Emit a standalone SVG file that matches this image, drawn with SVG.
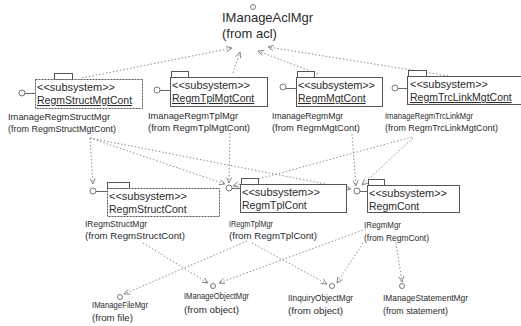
<svg xmlns="http://www.w3.org/2000/svg" width="521" height="326" viewBox="0 0 521 326">
<style>
  text { font-family: "Liberation Sans", Arial, sans-serif; fill: #2b2b2b; }
  .lbl { font-size: 9.5px; }
  .big { font-size: 13px; }
  .st { font-size: 11px; }
  .nm { font-size: 10.5px; text-decoration: underline; }
  .nm2 { font-size: 10.5px; }
  .box { fill: #fff; stroke: #555; stroke-width: 1; }
  .dot { stroke-dasharray: 2 1; }
  .tab { fill: #fff; stroke: #555; stroke-width: 1; }
  .ifc { fill: #fff; stroke: #777; stroke-width: 1; }
  .stick { stroke: #666; stroke-width: 1; }
  .dep { fill: none; stroke: #8f8f8f; stroke-width: 1; stroke-dasharray: 1.5 2; marker-end: url(#open); }
</style>
<defs>
  <marker id="open" viewBox="0 0 8 8" refX="7.5" refY="4" markerWidth="7" markerHeight="7" markerUnits="userSpaceOnUse" orient="auto">
    <path d="M1,1 L7.5,4 L1,7" fill="none" stroke="#808080" stroke-width="1"/>
  </marker>
</defs>
<rect width="521" height="326" fill="#fff"/>

<!-- dependency connectors -->
<g id="connectors">
  <!-- to IManageAclMgr -->
  <line class="dep" x1="82" y1="78" x2="232" y2="48"/>
  <line class="dep" x1="233" y1="73" x2="240" y2="52"/>
  <line class="dep" x1="318" y1="74" x2="258" y2="51"/>
  <line class="dep" x1="455" y1="77" x2="268" y2="47"/>
  <!-- management interfaces to core interfaces -->
  <line class="dep" x1="90" y1="138" x2="93" y2="184"/>
  <line class="dep" x1="90" y1="138" x2="225" y2="184"/>
  <line class="dep" x1="90" y1="138" x2="351" y2="189"/>
  <line class="dep" x1="230" y1="133" x2="229" y2="183"/>
  <line class="dep" x1="412" y1="137" x2="233" y2="186"/>
  <line class="dep" x1="352" y1="134" x2="356" y2="186"/>
  <line class="dep" x1="413" y1="138" x2="362" y2="185"/>
  <!-- core interfaces to service interfaces -->
  <line class="dep" x1="143" y1="243" x2="208" y2="283"/>
  <line class="dep" x1="247" y1="241" x2="124" y2="294"/>
  <line class="dep" x1="252" y1="243" x2="327" y2="284"/>
  <line class="dep" x1="366" y1="229" x2="219" y2="283"/>
  <line class="dep" x1="363" y1="243" x2="337" y2="283"/>
  <line class="dep" x1="396" y1="243" x2="402" y2="282"/>
</g>

<!-- interface IManageAclMgr -->
<g id="IManageAclMgr">
  <circle class="ifc" cx="253" cy="7" r="2.5"/>
  <text class="big" x="222" y="22">IManageAclMgr</text>
  <text class="big" x="222" y="38">(from acl)</text>
</g>

<!-- management subsystems -->
<g id="RegmStructMgtCont">
  <rect class="tab" x="54.5" y="73.5" width="18" height="6"/>
  <rect class="box dot" x="35.5" y="79.5" width="107" height="29"/>
  <text class="st" x="37" y="91" textLength="78">&lt;&lt;subsystem&gt;&gt;</text>
  <text class="nm" x="37" y="104">RegmStructMgtCont</text>
  <circle class="ifc" cx="22" cy="93" r="3"/>
  <line class="stick" x1="25" y1="93.5" x2="35" y2="93.5"/>
  <text class="lbl" x="8" y="120" textLength="102" lengthAdjust="spacingAndGlyphs">ImanageRegmStructMgr</text>
  <text class="lbl" x="8" y="132" textLength="108" lengthAdjust="spacingAndGlyphs">(from RegmStructMgtCont)</text>
</g>

<g id="RegmTplMgtCont">
  <rect class="tab" x="171.5" y="71.5" width="17" height="6"/>
  <rect class="box" x="170.5" y="77.5" width="97" height="29"/>
  <text class="st" x="172" y="89" textLength="78">&lt;&lt;subsystem&gt;&gt;</text>
  <text class="nm" x="172" y="102">RegmTplMgtCont</text>
  <circle class="ifc" cx="157" cy="90" r="3"/>
  <line class="stick" x1="160" y1="90.5" x2="170" y2="90.5"/>
  <text class="lbl" x="148" y="119" textLength="90" lengthAdjust="spacingAndGlyphs">ImanageRegmTplMgr</text>
  <text class="lbl" x="148" y="131" textLength="102" lengthAdjust="spacingAndGlyphs">(from RegmTplMgtCont)</text>
</g>

<g id="RegmMgtCont">
  <rect class="tab" x="297.5" y="71.5" width="17" height="6"/>
  <rect class="box" x="296.5" y="77.5" width="86" height="29"/>
  <text class="st" x="298" y="89" textLength="77">&lt;&lt;subsystem&gt;&gt;</text>
  <text class="nm" x="298" y="102">RegmMgtCont</text>
  <circle class="ifc" cx="283" cy="87" r="3"/>
  <line class="stick" x1="286" y1="88.5" x2="296" y2="88.5"/>
  <text class="lbl" x="272" y="119" textLength="71" lengthAdjust="spacingAndGlyphs">ImanageRegmMgr</text>
  <text class="lbl" x="272" y="131" textLength="88" lengthAdjust="spacingAndGlyphs">(from RegmMgtCont)</text>
</g>

<g id="RegmTrcLinkMgtCont">
  <rect class="tab" x="408.5" y="70.5" width="18" height="6"/>
  <rect class="box" x="407.5" y="76.5" width="120" height="28"/>
  <text class="st" x="410" y="88" textLength="78">&lt;&lt;subsystem&gt;&gt;</text>
  <text class="nm" x="410" y="101">RegmTrcLinkMgtCont</text>
  <circle class="ifc" cx="395" cy="88" r="3"/>
  <line class="stick" x1="398" y1="88.5" x2="407" y2="88.5"/>
  <text class="lbl" x="385" y="119" textLength="88" lengthAdjust="spacingAndGlyphs">ImanageRegmTrcLinkMgr</text>
  <text class="lbl" x="385" y="131" textLength="113" lengthAdjust="spacingAndGlyphs">(from RegmTrcLinkMgtCont)</text>
</g>

<!-- core subsystems -->
<g id="RegmStructCont">
  <rect class="tab" x="107.5" y="182.5" width="22" height="6"/>
  <rect class="box dot" x="107.5" y="188.5" width="112" height="28"/>
  <text class="st" x="109" y="200" textLength="78">&lt;&lt;subsystem&gt;&gt;</text>
  <text class="nm2" x="109" y="213">RegmStructCont</text>
  <circle class="ifc" cx="93" cy="191" r="3"/>
  <line class="stick" x1="96" y1="191.5" x2="107" y2="191.5"/>
  <text class="lbl" x="85" y="227" textLength="62" lengthAdjust="spacingAndGlyphs">IRegmStructMgr</text>
  <text class="lbl" x="85" y="239" textLength="100" lengthAdjust="spacingAndGlyphs">(from RegmStructCont)</text>
</g>

<g id="RegmTplCont">
  <rect class="tab" x="241.5" y="178.5" width="17" height="6"/>
  <rect class="box" x="240.5" y="184.5" width="106" height="28"/>
  <text class="st" x="242" y="196" textLength="78">&lt;&lt;subsystem&gt;&gt;</text>
  <text class="nm2" x="242" y="209">RegmTplCont</text>
  <circle class="ifc" cx="229" cy="188" r="3"/>
  <line class="stick" x1="232" y1="188.5" x2="240" y2="188.5"/>
  <text class="lbl" x="229" y="227" textLength="44" lengthAdjust="spacingAndGlyphs">IRegmTplMgr</text>
  <text class="lbl" x="229" y="239" textLength="88" lengthAdjust="spacingAndGlyphs">(from RegmTplCont)</text>
</g>

<g id="RegmCont">
  <rect class="tab" x="368.5" y="179.5" width="16" height="6"/>
  <rect class="box" x="367.5" y="185.5" width="92" height="27"/>
  <text class="st" x="369" y="197" textLength="78">&lt;&lt;subsystem&gt;&gt;</text>
  <text class="nm2" x="369" y="210">RegmCont</text>
  <circle class="ifc" cx="357" cy="191" r="3"/>
  <line class="stick" x1="360" y1="191.5" x2="367" y2="191.5"/>
  <text class="lbl" x="364" y="228" textLength="37" lengthAdjust="spacingAndGlyphs">IRegmMgr</text>
  <text class="lbl" x="364" y="241" textLength="65" lengthAdjust="spacingAndGlyphs">(from RegmCont)</text>
</g>

<!-- service interfaces -->
<g id="IManageFileMgr">
  <circle class="ifc" cx="120" cy="297" r="2.5"/>
  <text class="lbl" x="92" y="308" textLength="56" lengthAdjust="spacingAndGlyphs">IManageFileMgr</text>
  <text class="lbl" x="92" y="321" textLength="41" lengthAdjust="spacingAndGlyphs">(from file)</text>
</g>

<g id="IManageObjectMgr">
  <circle class="ifc" cx="213" cy="286" r="2.5"/>
  <text class="lbl" x="184" y="299" textLength="65" lengthAdjust="spacingAndGlyphs">IManageObjectMgr</text>
  <text class="lbl" x="184" y="313" textLength="55" lengthAdjust="spacingAndGlyphs">(from object)</text>
</g>

<g id="IInquiryObjectMgr">
  <circle class="ifc" cx="332" cy="286" r="2.5"/>
  <text class="lbl" x="288" y="301" textLength="65" lengthAdjust="spacingAndGlyphs">IInquiryObjectMgr</text>
  <text class="lbl" x="288" y="314" textLength="55" lengthAdjust="spacingAndGlyphs">(from object)</text>
</g>

<g id="IManageStatementMgr">
  <circle class="ifc" cx="402" cy="286" r="2.5"/>
  <text class="lbl" x="383" y="301" textLength="85" lengthAdjust="spacingAndGlyphs">IManageStatementMgr</text>
  <text class="lbl" x="383" y="314" textLength="65" lengthAdjust="spacingAndGlyphs">(from statement)</text>
</g>
</svg>
